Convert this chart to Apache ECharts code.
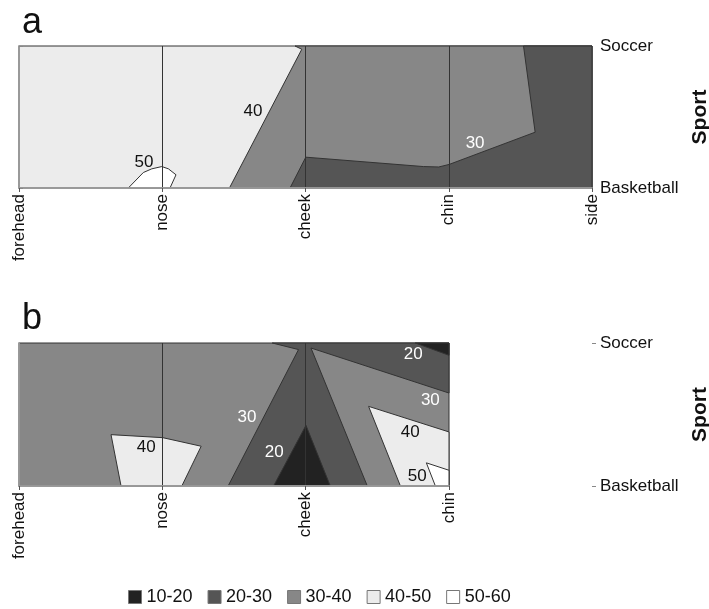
<!DOCTYPE html>
<html>
<head>
<meta charset="utf-8">
<script src="https://cdn.jsdelivr.net/npm/echarts@6/dist/echarts.min.js"></script>
<style>
  html, body { margin: 0; padding: 0; background: #fff; }
  #chart { width: 709px; height: 609px; }
</style>
</head>
<body>
<div id="chart"></div>
<script>
// Face sites along the x axis, sports along the y axis
const faceSites = ['forehead', 'nose', 'cheek', 'chin', 'side'];
const sports = ['Basketball', 'Soccer'];

// Contour bands and their grey fills
const bandNames = ['10-20', '20-30', '30-40', '40-50', '50-60'];
const bandFills = ['#222222', '#555555', '#878787', '#ececec', '#ffffff'];

// Panel a: filled contour regions, vertices as [site position, sport position]
const a4050 = [[0, 0], [0, 1], [4, 1], [4, 0]];
const a3040 = [[1.469, 0], [1.974, 0.977], [1.927, 1], [4, 1], [4, 0]];
const a2030 = [[1.892, 0], [2.002, 0.217], [2.823, 0.151], [2.93, 0.148], [3.003, 0.166],
               [3.603, 0.393], [3.522, 1], [4, 1], [4, 0]];
const a5060 = [[0.763, 0], [0.868, 0.109], [0.927, 0.135], [0.997, 0.151], [1.043, 0.135],
               [1.096, 0.093], [1.054, 0]];

// Panel b: filled contour regions
const b3040 = [[0, 0], [0, 1], [3, 1], [3, 0]];
const b4050left = [[0.642, 0.359], [1.003, 0.338], [1.271, 0.278], [1.136, 0], [0.712, 0]];
const b2030 = [[1.767, 1], [3, 1], [3, 0.65], [2.037, 0.965], [2.43, 0], [1.459, 0], [1.95, 0.954]];
const b1020top = [[2.765, 1], [3, 1], [3, 0.914]];
const b1020mid = [[2.002, 0.424], [1.776, 0], [2.172, 0]];
const b4050right = [[2.439, 0.557], [3, 0.378], [3, 0], [2.661, 0]];
const b5060 = [[2.842, 0.162], [3, 0.11], [3, 0], [2.905, 0]];

// Contour level labels: [site position, sport position, text, dark text?]
const labelsA = [[1.634, 0.541, '40', true], [0.873, 0.184, '50', true], [3.184, 0.316, '30', false]];
const labelsB = [[0.887, 0.271, '40', true], [1.59, 0.483, '30', false], [1.781, 0.238, '20', false],
                 [2.751, 0.921, '20', false], [2.87, 0.6, '30', false], [2.73, 0.378, '40', true],
                 [2.779, 0.068, '50', true]];

// Paint order per panel (later entries are drawn on top)
const layersA = [['40-50', a4050], ['30-40', a3040], ['20-30', a2030], ['50-60', a5060]];
const layersB = [['30-40', b3040], ['40-50', b4050left], ['20-30', b2030], ['10-20', b1020top],
                 ['10-20', b1020mid], ['40-50', b4050right], ['50-60', b5060]];

const FONT = '"Liberation Sans", Arial, sans-serif';
const FRAME = '#9a9a9a';

function fillOf(band) { return bandFills[bandNames.indexOf(band)]; }

function regionSeries(layers, axisIdx) {
  return layers.map(([band, pts], i) => ({
    type: 'custom',
    name: band,
    xAxisIndex: axisIdx,
    yAxisIndex: axisIdx === 0 ? 1 : 4,
    z: 2 + i,
    silent: true,
    itemStyle: { color: fillOf(band) },
    data: [[pts[0][0], pts[0][1]]],
    renderItem: (params, api) => ({
      type: 'polygon',
      shape: { points: pts.map(p => api.coord(p)) },
      style: { fill: fillOf(band), stroke: '#333', lineWidth: 1 }
    })
  }));
}

function labelSeries(labels, axisIdx) {
  return {
    type: 'custom',
    name: 'levels',
    xAxisIndex: axisIdx,
    yAxisIndex: axisIdx === 0 ? 1 : 4,
    z: 30,
    silent: true,
    data: labels.map(l => [l[0], l[1]]),
    renderItem: (params, api) => {
      const l = labels[params.dataIndex];
      const c = api.coord([l[0], l[1]]);
      return {
        type: 'text',
        x: c[0], y: c[1],
        style: { text: l[2], fill: l[3] ? '#111' : '#fff', font: '17px ' + FONT,
                 align: 'center', verticalAlign: 'middle' }
      };
    }
  };
}

function siteAxis(gridIndex, max) {
  return {
    type: 'value', gridIndex, min: 0, max, interval: 1, position: 'bottom', z: 10,
    axisLine: { show: true, lineStyle: { color: FRAME, width: 1.5 } },
    axisTick: { show: true, length: 4, lineStyle: { color: '#555' } },
    axisLabel: { rotate: 90, margin: 6, fontSize: 17, color: '#111', fontFamily: FONT,
                 formatter: v => faceSites[v] },
    splitLine: { show: true, showMinLine: false, showMaxLine: false,
                 lineStyle: { color: '#333', width: 1 } }
  };
}
function frameX(gridIndex, max) {
  return { type: 'value', gridIndex, min: 0, max, position: 'top', z: 10,
           axisLine: { show: true, lineStyle: { color: FRAME, width: 1.5 } },
           axisTick: { show: false }, axisLabel: { show: false }, splitLine: { show: false } };
}
function frameY(gridIndex, position) {
  return { type: 'value', gridIndex, min: 0, max: 1, position, z: 10,
           axisLine: { show: true, lineStyle: { color: FRAME, width: 1.5 } },
           axisTick: { show: false }, axisLabel: { show: false }, splitLine: { show: false } };
}
function sportAxis(gridIndex, offset, showLine) {
  return {
    type: 'value', gridIndex, min: 0, max: 1, interval: 1, position: 'right', offset, z: 10,
    name: 'Sport', nameLocation: 'middle', nameRotate: 90, nameGap: 96,
    nameTextStyle: { fontSize: 21, fontWeight: 'bold', color: '#111', fontFamily: FONT },
    axisLine: { show: showLine, lineStyle: { color: FRAME, width: 1.5 } },
    axisTick: { show: true, length: 4, lineStyle: { color: '#888' } },
    axisLabel: { margin: 8, fontSize: 17, color: '#111', fontFamily: FONT,
                 formatter: v => sports[v] },
    splitLine: { show: false }
  };
}

const chart = echarts.init(document.getElementById('chart'), null, { renderer: 'canvas' });
chart.setOption({
  animation: false,
  backgroundColor: '#fff',
  title: [
    { text: 'a', left: 17, top: 0, textStyle: { fontSize: 36, fontWeight: 'normal', color: '#111', fontFamily: FONT } },
    { text: 'b', left: 17, top: 296, textStyle: { fontSize: 36, fontWeight: 'normal', color: '#111', fontFamily: FONT } }
  ],
  grid: [
    { left: 19, top: 46, width: 573, height: 142, outerBoundsMode: 'none' },
    { left: 19, top: 343, width: 430, height: 143, outerBoundsMode: 'none' }
  ],
  xAxis: [siteAxis(0, 4), frameX(0, 4), siteAxis(1, 3), frameX(1, 3)],
  yAxis: [frameY(0, 'left'), sportAxis(0, 0, true), frameY(1, 'left'), frameY(1, 'right'),
          sportAxis(1, 143, false)],
  legend: {
    data: bandNames,
    left: 123, top: 583,
    icon: 'rect', itemWidth: 13, itemHeight: 13, itemGap: 15,
    itemStyle: { borderColor: '#777', borderWidth: 1 },
    textStyle: { fontSize: 18, color: '#111', fontFamily: FONT },
    selectedMode: false
  },
  series: [
    ...regionSeries(layersA, 0),
    labelSeries(labelsA, 0),
    ...regionSeries(layersB, 2),
    labelSeries(labelsB, 2)
  ]
});
</script>
</body>
</html>
